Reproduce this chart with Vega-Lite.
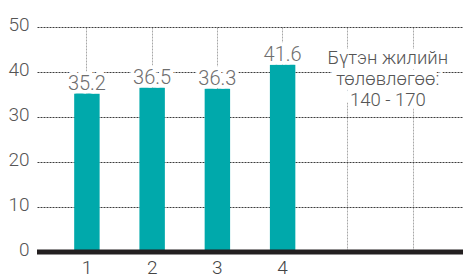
{
  "$schema": "https://vega.github.io/schema/vega-lite/v6.json",
  "width": 426,
  "height": 225,
  "autosize": "none",
  "padding": {"left": 37, "top": 27, "right": 4, "bottom": 26},
  "background": "white",
  "config": {
    "view": {"stroke": null},
    "font": "Roboto",
    "axis": {"labelFont": "Roboto", "labelFontWeight": 300}
  },
  "datasets": {
    "bars": [
      {"q": "1", "v": 35.2},
      {"q": "2", "v": 36.5},
      {"q": "3", "v": 36.3},
      {"q": "4", "v": 41.6}
    ],
    "note": [
      {"q": "5", "v": 45.2, "t": "Бүтэн жилийн\nтөлөвлөгөө:\n140 - 170"}
    ]
  },
  "encoding": {
    "x": {
      "field": "q",
      "type": "nominal",
      "scale": {"domain": ["1", "2", "3", "4", "5", "6"], "paddingInner": 0.61, "paddingOuter": 0.57},
      "axis": {
        "title": null,
        "domain": false,
        "ticks": false,
        "labelAngle": 0,
        "labelFontSize": 19,
        "labelColor": "#444444",
        "labelPadding": 6,
        "labelExpr": "toNumber(datum.value) <= 4 ? datum.value : ''",
        "grid": true,
        "gridColor": "#a8a8a8",
        "gridDash": [2, 1],
        "gridWidth": 1
      }
    },
    "y": {
      "field": "v",
      "type": "quantitative",
      "scale": {"domain": [0, 50], "nice": false},
      "axis": {
        "title": null,
        "domain": false,
        "ticks": false,
        "values": [0, 10, 20, 30, 40, 50],
        "labelFontSize": 19,
        "labelColor": "#555555",
        "labelPadding": 8,
        "labelBaseline": "middle",
        "labelOffset": -3,
        "grid": true,
        "gridColor": "#3c3c3c",
        "gridDash": [2, 1],
        "gridWidth": 1
      }
    }
  },
  "layer": [
    {
      "data": {"name": "bars"},
      "mark": {"type": "bar", "color": "#00a9ab"}
    },
    {
      "data": {"name": "bars"},
      "mark": {"type": "text", "baseline": "alphabetic", "dy": -4, "fontSize": 20, "fontWeight": 300, "stroke": "white", "strokeWidth": 7, "fill": "white"},
      "encoding": {"text": {"field": "v", "type": "quantitative", "format": ".1f"}}
    },
    {
      "data": {"name": "bars"},
      "mark": {"type": "text", "baseline": "alphabetic", "dy": -4, "fontSize": 20, "fontWeight": 300, "color": "#6e6e6e"},
      "encoding": {"text": {"field": "v", "type": "quantitative", "format": ".1f"}}
    },
    {
      "data": {"name": "note"},
      "mark": {"type": "text", "lineBreak": "\n", "align": "center", "baseline": "top", "dx": 40, "fontSize": 18.5, "fontWeight": 300, "lineHeight": 21, "stroke": "white", "strokeWidth": 10, "fill": "white"},
      "encoding": {"text": {"field": "t", "type": "nominal"}}
    },
    {
      "data": {"name": "note"},
      "mark": {"type": "text", "lineBreak": "\n", "align": "center", "baseline": "top", "dx": 40, "fontSize": 18.5, "fontWeight": 300, "lineHeight": 21, "color": "#555555"},
      "encoding": {"text": {"field": "t", "type": "nominal"}}
    },
    {
      "data": {"values": [{"z": 0}]},
      "mark": {"type": "rule", "color": "#231f20", "strokeWidth": 5},
      "encoding": {"y": {"field": "z", "type": "quantitative"}, "x": {"value": 0}, "x2": {"value": 426}}
    }
  ]
}
